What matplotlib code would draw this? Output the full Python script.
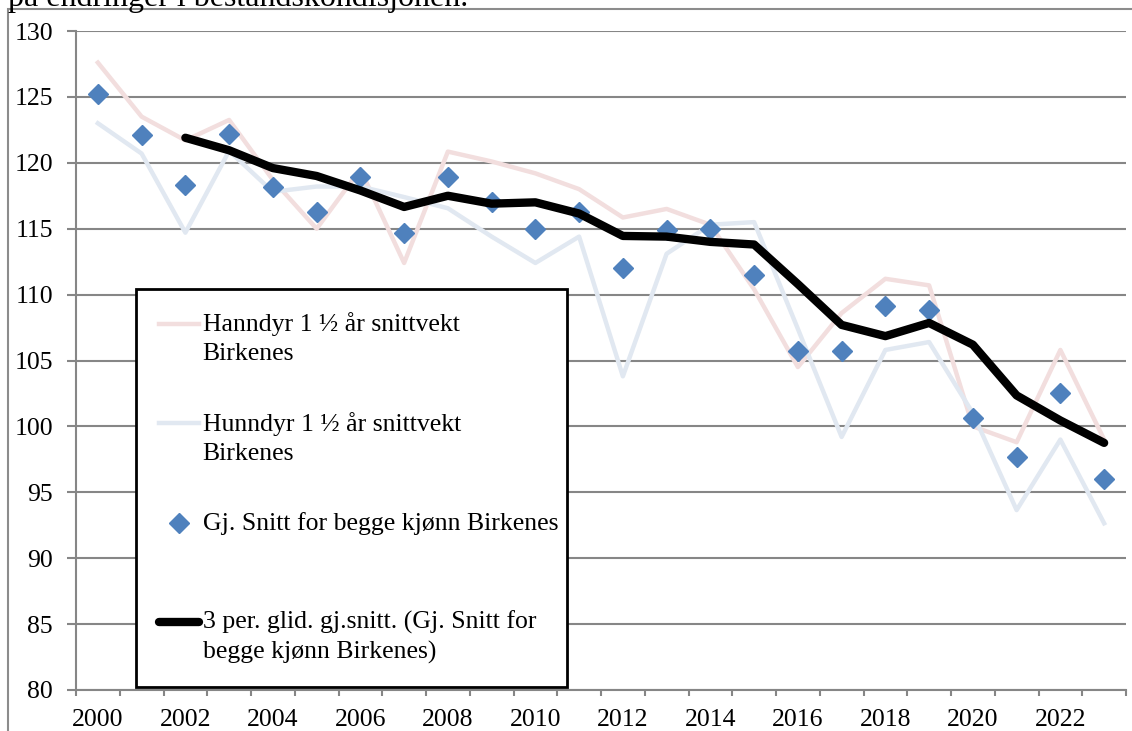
import numpy as np
import matplotlib
matplotlib.use("Agg")
import matplotlib.pyplot as plt
from matplotlib.legend_handler import HandlerLine2D
from matplotlib.patches import Rectangle

plt.rcParams['font.family'] = ['Liberation Serif', 'DejaVu Serif']

# data
years = list(range(2000, 2024))
hanndyr = [127.6, 123.5, 121.7, 123.25, 118.7, 115.0, 119.5, 112.4, 120.85, 120.1,
           119.2, 118.0, 115.85, 116.5, 115.3, 110.4, 104.5, 108.6, 111.2, 110.7,
           100.0, 98.8, 105.8, 99.0]
hunndyr = [123.0, 120.7, 114.7, 120.9, 117.8, 118.2, 118.2, 117.4, 116.55, 114.4,
           112.4, 114.4, 103.8, 113.1, 115.3, 115.5, 107.4, 99.2, 105.8, 106.4,
           101.0, 93.65, 99.0, 92.65]
snitt = [125.2, 122.1, 118.35, 122.2, 118.2, 116.3, 118.9, 114.65, 118.9, 117.0,
         115.0, 116.3, 112.0, 114.9, 115.0, 111.5, 105.7, 105.7, 109.1, 108.8,
         100.6, 97.7, 102.5, 96.0]
glid = [np.nan, np.nan, 121.9, 120.95, 119.6, 119.0, 117.9, 116.65, 117.5, 116.9,
        117.0, 116.15, 114.45, 114.4, 114.0, 113.8, 110.8, 107.7, 106.85, 107.85,
        106.2, 102.35, 100.45, 98.75]

# Excel gives every legend entry the same slot, so the one-line label gets a blank 2nd line
labels = ["Hanndyr 1 ½ år snittvekt\nBirkenes",
          "Hunndyr 1 ½ år snittvekt\nBirkenes",
          "Gj. Snitt for begge kjønn Birkenes\n ",
          "3 per. glid. gj.snitt. (Gj. Snitt for\nbegge kjønn Birkenes)"]

grey = '#868686'

fig = plt.figure(figsize=(11.32, 7.31), dpi=100)
ax = fig.add_axes([76 / 1132, 41 / 731, 1050 / 1132, 659 / 731])

l1, = ax.plot(years, hanndyr, color='#F2DEDE', lw=3.2, zorder=2)
l2, = ax.plot(years, hunndyr, color='#E1E8F1', lw=3.2, zorder=2)
l3, = ax.plot(years, snitt, ls='none', marker='D', markersize=10,
              color='#4F81BD', zorder=3)
l4, = ax.plot(years, glid, color='black', lw=6, solid_capstyle='round', zorder=4)

ax.set_xlim(1999.5, 2023.5)
ax.set_ylim(80, 130)
ax.set_yticks(range(80, 131, 5))
ax.yaxis.grid(True, color=grey, lw=1.5)
ax.set_axisbelow(True)

ax.set_xticks(np.arange(1999.5, 2024, 1))
ax.set_xticklabels([])
ax.set_xticks(years[::2], minor=True)
ax.set_xticklabels([str(y) for y in years[::2]], minor=True)
ax.tick_params(axis='x', which='major', length=4, width=1.5, color=grey, direction='out')
ax.tick_params(axis='x', which='minor', length=0, pad=13.5, labelsize=18.5)
ax.tick_params(axis='y', length=6.5, width=1.5, color=grey, pad=10, labelsize=18.5)

for s in ['top', 'right']:
    ax.spines[s].set_visible(False)
for s in ['left', 'bottom']:
    ax.spines[s].set_color(grey)
    ax.spines[s].set_linewidth(1.5)


def raise_line(handle, orig):
    # keep the style, but put the sample level with the first text line
    handle.update_from(orig)
    handle.set_ydata(np.asarray(handle.get_ydata()) + 10.4)


hmap = {l: HandlerLine2D(update_func=raise_line) for l in [l1, l2, l3, l4]}
leg = ax.legend([l1, l2, l3, l4], labels, handler_map=hmap,
                loc='upper left', bbox_to_anchor=(0.0569, 0.0061, 0.4105, 0.6024),
                mode='expand', borderaxespad=0, fontsize=18.5, borderpad=0.9,
                labelspacing=1.82, handlelength=1.55, handletextpad=0.15,
                frameon=True, fancybox=False, framealpha=1, edgecolor='black')
leg.get_frame().set_linewidth(2)
for t in leg.get_texts():
    t.set_linespacing(1.41)

# chart area border and the document text cut off above it
fig.add_artist(Rectangle((8 / 1132, -0.5), 2, 0.5 + 1 - 9 / 731, transform=fig.transFigure,
                         fill=False, ec='#8C8C8C', lw=1.5))
fig.text(8 / 1132, 1 - 6 / 731, "på endringer i bestandskondisjonen.",
         fontsize=23, va='baseline', ha='left')

fig.savefig("out.png", dpi=100)
